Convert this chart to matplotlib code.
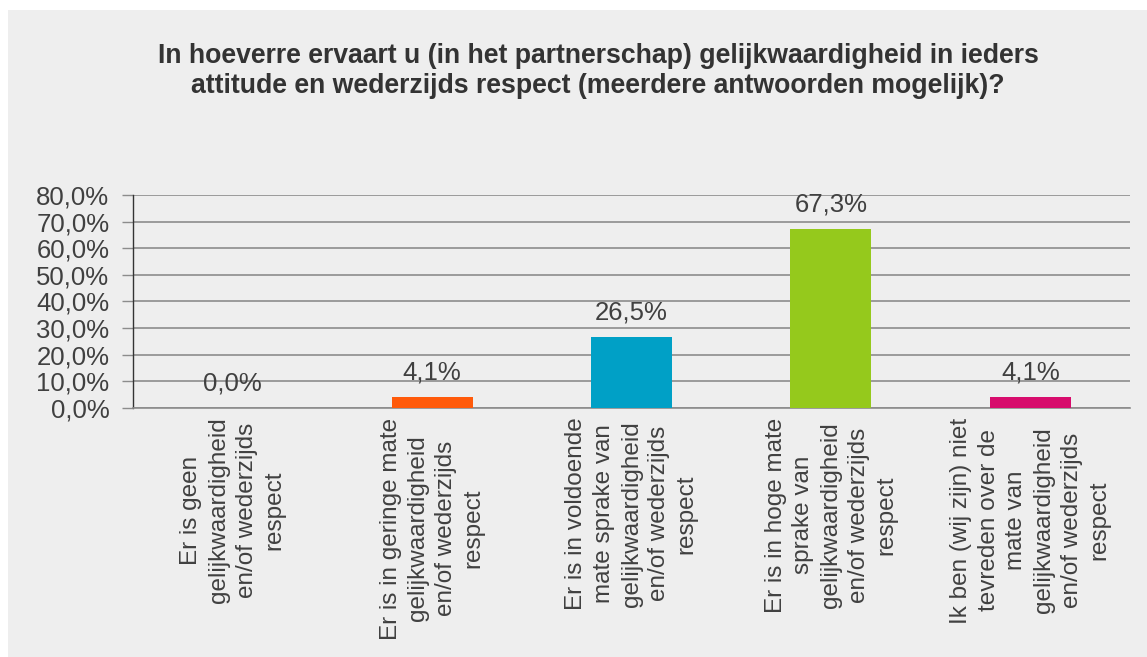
import matplotlib.pyplot as plt
from matplotlib.patches import Rectangle

plt.rcParams['font.family'] = ['Liberation Sans', 'DejaVu Sans']

title = ("In hoeverre ervaart u (in het partnerschap) gelijkwaardigheid in ieders\n"
         "attitude en wederzijds respect (meerdere antwoorden mogelijk)?")
categories = [
    "Er is geen\ngelijkwaardigheid\nen/of wederzijds\nrespect",
    "Er is in geringe mate\ngelijkwaardigheid\nen/of wederzijds\nrespect",
    "Er is in voldoende\nmate sprake van\ngelijkwaardigheid\nen/of wederzijds\nrespect",
    "Er is in hoge mate\nsprake van\ngelijkwaardigheid\nen/of wederzijds\nrespect",
    "Ik ben (wij zijn) niet\ntevreden over de\nmate van\ngelijkwaardigheid\nen/of wederzijds\nrespect",
]
values = [0.0, 4.1, 26.5, 67.3, 4.1]
colors = ['#FF5A0A', '#FF5A0A', '#00A0C6', '#95C91C', '#D70C6C']
yticks = [0, 10, 20, 30, 40, 50, 60, 70, 80]

W, H = 1147, 657
fig = plt.figure(figsize=(W / 100, H / 100), dpi=100)
fig.patch.set_facecolor('white')
fig.add_artist(Rectangle((8 / W, 0), 1, 1 - 10 / H, transform=fig.transFigure,
                         facecolor='#EEEEEE', edgecolor='none', zorder=-10))

ax = fig.add_axes([133 / W, 1 - 407.7 / H, (1130 - 133) / W, (407.7 - 195) / H])
ax.set_facecolor('none')

x = list(range(len(values)))
ax.bar(x, values, width=0.406, color=colors, zorder=3)
ax.set_xlim(-0.5, len(values) - 0.5)
ax.set_ylim(0, 80)

for xi, v in zip(x, values):
    ax.annotate(f"{v:.1f}%".replace('.', ','), (xi, v), xytext=(0, 12.5),
                textcoords='offset points', ha='center', va='baseline',
                fontsize=18.5, color='#404040')

ax.set_yticks(yticks)
ax.set_yticklabels([f"{t:.1f}%".replace('.', ',') for t in yticks],
                   fontsize=18.5, color='#404040')
ax.yaxis.grid(True, color='#8C8C8C', linewidth=1.2, zorder=0)
ax.tick_params(axis='y', length=8, width=1, color='#8C8C8C', pad=9)

ax.set_xticks(x)
ax.set_xticklabels(categories, rotation=90, fontsize=17.5, color='#404040',
                   ha='center', va='top', multialignment='center', linespacing=1.33)
ax.tick_params(axis='x', length=0, pad=7)

for s in ['top', 'right']:
    ax.spines[s].set_visible(False)
ax.spines['left'].set_color('#333333')
ax.spines['left'].set_linewidth(1)
ax.spines['bottom'].set_color('#8C8C8C')
ax.spines['bottom'].set_linewidth(1.2)

fig.text(598 / W, 1 - 43 / H, title, ha='center', va='top', fontsize=19.2,
         fontweight='bold', color='#333333', linespacing=1.2)

fig.savefig('out.png', dpi=100)
